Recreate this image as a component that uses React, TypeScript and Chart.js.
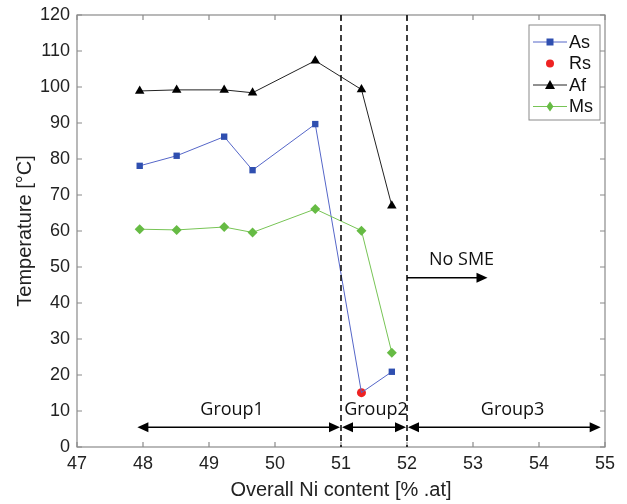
import React, { useEffect, useRef } from "react";
import { Chart, registerables } from "chart.js";
Chart.register(...registerables);

const niContent = [47.95, 48.51, 49.23, 49.66, 50.61, 51.31, 51.77];
const asValues = [78.1, 80.9, 86.2, 76.9, 89.7, 15.1, 20.9];
const rsNi = [51.31];
const rsValues = [15.1];
const afValues = [98.9, 99.2, 99.2, 98.4, 107.3, 99.3, 67.0];
const msValues = [60.5, 60.3, 61.1, 59.6, 66.1, 60.1, 26.2];
const groupBounds = [47.9, 51, 52, 54.95];
const groupLabels = ["Group1", "Group2", "Group3"];
const groupLabelX = [49.35, 51.53, 53.6];
const dividers = [51, 52];
const xTickValues = [47, 48, 49, 50, 51, 52, 53, 54, 55];
const yTickValues = [0, 10, 20, 30, 40, 50, 60, 70, 80, 90, 100, 110, 120];
const noSmeArrow = { x0: 52, x1: 53.22, y: 47, label: "No SME" };

const FONT = "'Liberation Sans', Arial, sans-serif";
const LABEL_FONT = "'Open Sans', 'Noto Sans', sans-serif";
const BLUE = "#2f4fb0";
const BLUE_LINE = "#5566c8";
const GREEN = "#66bb44";
const GREEN_LINE = "#77c455";
const RED = "#ee2222";

function arrowHead(ctx: CanvasRenderingContext2D, x: number, y: number, dir: number) {
  const L = 11, W = 5;
  ctx.beginPath();
  ctx.moveTo(x, y);
  ctx.lineTo(x - dir * L, y - W);
  ctx.lineTo(x - dir * L, y + W);
  ctx.closePath();
  ctx.fill();
}

const overlay = {
  id: "overlay",
  afterDraw(chart: any) {
    const ctx: CanvasRenderingContext2D = chart.ctx;
    const xs = chart.scales.x;
    const ys = chart.scales.y;
    const a = chart.chartArea;
    ctx.save();
    // box
    ctx.strokeStyle = "#8a8a8a";
    ctx.lineWidth = 1.2;
    ctx.strokeRect(a.left, a.top, a.right - a.left, a.bottom - a.top);
    // inside ticks
    ctx.beginPath();
    for (const v of xTickValues) {
      const px = xs.getPixelForValue(v);
      ctx.moveTo(px, a.bottom); ctx.lineTo(px, a.bottom - 5);
      ctx.moveTo(px, a.top); ctx.lineTo(px, a.top + 5);
    }
    for (const v of yTickValues) {
      const py = ys.getPixelForValue(v);
      ctx.moveTo(a.left, py); ctx.lineTo(a.left + 5, py);
      ctx.moveTo(a.right, py); ctx.lineTo(a.right - 5, py);
    }
    ctx.stroke();
    // dashed dividers
    ctx.strokeStyle = "#111";
    ctx.lineWidth = 1.6;
    ctx.setLineDash([6, 4]);
    for (const d of dividers) {
      const px = xs.getPixelForValue(d);
      ctx.beginPath();
      ctx.moveTo(px, a.top); ctx.lineTo(px, a.bottom);
      ctx.stroke();
    }
    ctx.setLineDash([]);
    // group arrows
    ctx.fillStyle = "#000";
    ctx.strokeStyle = "#000";
    ctx.lineWidth = 1.6;
    const ay = ys.getPixelForValue(5.5);
    for (let i = 0; i < 3; i++) {
      const x0 = xs.getPixelForValue(groupBounds[i]) + 1;
      const x1 = xs.getPixelForValue(groupBounds[i + 1]) - 1;
      ctx.beginPath();
      ctx.moveTo(x0 + 5, ay); ctx.lineTo(x1 - 5, ay);
      ctx.stroke();
      arrowHead(ctx, x0, ay, -1);
      arrowHead(ctx, x1, ay, 1);
    }
    ctx.font = `18px ${LABEL_FONT}`;
    ctx.textAlign = "center";
    ctx.textBaseline = "middle";
    ctx.fillStyle = "#111";
    for (let i = 0; i < 3; i++) {
      ctx.fillText(groupLabels[i], xs.getPixelForValue(groupLabelX[i]), ys.getPixelForValue(10.2));
    }
    // No SME arrow
    const ny = ys.getPixelForValue(noSmeArrow.y);
    const nx0 = xs.getPixelForValue(noSmeArrow.x0);
    const nx1 = xs.getPixelForValue(noSmeArrow.x1);
    ctx.beginPath();
    ctx.moveTo(nx0, ny); ctx.lineTo(nx1 - 5, ny);
    ctx.stroke();
    ctx.fillStyle = "#000";
    arrowHead(ctx, nx1, ny, 1);
    ctx.font = `18px ${LABEL_FONT}`;
    ctx.textAlign = "left";
    ctx.fillStyle = "#111";
    ctx.fillText(noSmeArrow.label, nx0 + 22, ny - 18);
    // legend
    const lx = 529, ly = 25, lw = 71, lh = 95;
    ctx.fillStyle = "#fff";
    ctx.fillRect(lx, ly, lw, lh);
    ctx.strokeStyle = "#8a8a8a";
    ctx.lineWidth = 1;
    ctx.strokeRect(lx, ly, lw, lh);
    const items = [
      { label: "As", line: BLUE_LINE, color: BLUE, marker: "rect" },
      { label: "Rs", line: null, color: RED, marker: "circle" },
      { label: "Af", line: "#222", color: "#000", marker: "triangle" },
      { label: "Ms", line: GREEN_LINE, color: GREEN, marker: "diamond" },
    ];
    items.forEach((it, i) => {
      const cy = ly + 17 + i * 21.5;
      if (it.line) {
        ctx.strokeStyle = it.line;
        ctx.lineWidth = 1;
        ctx.beginPath();
        ctx.moveTo(lx + 4, cy); ctx.lineTo(lx + 38, cy);
        ctx.stroke();
      }
      ctx.fillStyle = it.color;
      const mx = lx + 21;
      ctx.beginPath();
      if (it.marker === "rect") ctx.rect(mx - 3.5, cy - 3.5, 7, 7);
      else if (it.marker === "circle") ctx.arc(mx, cy, 4, 0, Math.PI * 2);
      else if (it.marker === "triangle") { ctx.moveTo(mx, cy - 5); ctx.lineTo(mx + 5, cy + 4); ctx.lineTo(mx - 5, cy + 4); ctx.closePath(); }
      else { ctx.moveTo(mx, cy - 5); ctx.lineTo(mx + 3.5, cy); ctx.lineTo(mx, cy + 5); ctx.lineTo(mx - 3.5, cy); ctx.closePath(); }
      ctx.fill();
      ctx.fillStyle = "#111";
      ctx.font = `18px ${FONT}`;
      ctx.textAlign = "left";
      ctx.textBaseline = "middle";
      ctx.fillText(it.label, lx + 40, cy + 1);
    });
    ctx.restore();
  },
};

function pts(xv: number[], yv: number[]) {
  return xv.map((x, i) => ({ x, y: yv[i] }));
}

export default function App() {
  const ref = useRef<HTMLCanvasElement | null>(null);
  useEffect(() => {
    if (!ref.current) return;
    const chart = new Chart(ref.current, {
      type: "scatter",
      data: {
        datasets: [
          {
            label: "Af", data: pts(niContent, afValues), showLine: true,
            borderColor: "#222", backgroundColor: "#000", borderWidth: 1,
            pointStyle: "triangle", pointRadius: 5.5, pointBorderWidth: 0,
          },
          {
            label: "Ms", data: pts(niContent, msValues), showLine: true,
            borderColor: GREEN_LINE, backgroundColor: GREEN, borderWidth: 1,
            pointStyle: "rectRot", pointRadius: 5, pointBorderWidth: 0,
          },
          {
            label: "As", data: pts(niContent, asValues), showLine: true,
            borderColor: BLUE_LINE, backgroundColor: BLUE, borderWidth: 1,
            pointStyle: "rect", pointRadius: [4.5, 4.5, 4.5, 4.5, 4.5, 0, 4.5], pointBorderWidth: 0,
          },
          {
            label: "Rs", data: pts(rsNi, rsValues), showLine: false,
            borderColor: RED, backgroundColor: RED,
            pointStyle: "circle", pointRadius: 4.5, pointBorderWidth: 0,
          },
        ],
      },
      options: {
        animation: false,
        responsive: false,
        maintainAspectRatio: false,
        layout: { padding: { left: 0, top: 15, right: 22, bottom: 0 } },
        plugins: { legend: { display: false }, tooltip: { enabled: false } },
        scales: {
          x: {
            type: "linear", min: 47, max: 55,
            afterBuildTicks: (s: any) => { s.ticks = xTickValues.map((v) => ({ value: v })); },
            afterFit: (s: any) => { s.height = 57; s.paddingLeft = 0; s.paddingRight = 0; },
            grid: { display: false, drawTicks: false },
            border: { display: false },
            ticks: { color: "#222", font: { family: FONT, size: 18 }, padding: 6, maxRotation: 0 },
            title: { display: true, text: "Overall Ni content [% .at]", color: "#222", font: { family: FONT, size: 20 }, padding: { top: 0, bottom: 2 } },
          },
          y: {
            type: "linear", min: 0, max: 120,
            afterBuildTicks: (s: any) => { s.ticks = yTickValues.map((v) => ({ value: v })); },
            afterFit: (s: any) => { s.width = 77; s.paddingTop = 0; s.paddingBottom = 0; },
            grid: { display: false, drawTicks: false },
            border: { display: false },
            ticks: { color: "#222", font: { family: FONT, size: 18 }, padding: 7 },
            title: { display: true, text: "Temperature [°C]", color: "#222", font: { family: FONT, size: 20 }, padding: { top: 13, bottom: 0 } },
          },
        },
      },
      plugins: [overlay],
    } as any);
    return () => chart.destroy();
  }, []);
  return (
    <div style={{ position: "fixed", left: 0, top: 0, width: 627, height: 504, background: "#fff" }}>
      <canvas ref={ref} width={627} height={504} style={{ width: 627, height: 504 }} />
    </div>
  );
}
